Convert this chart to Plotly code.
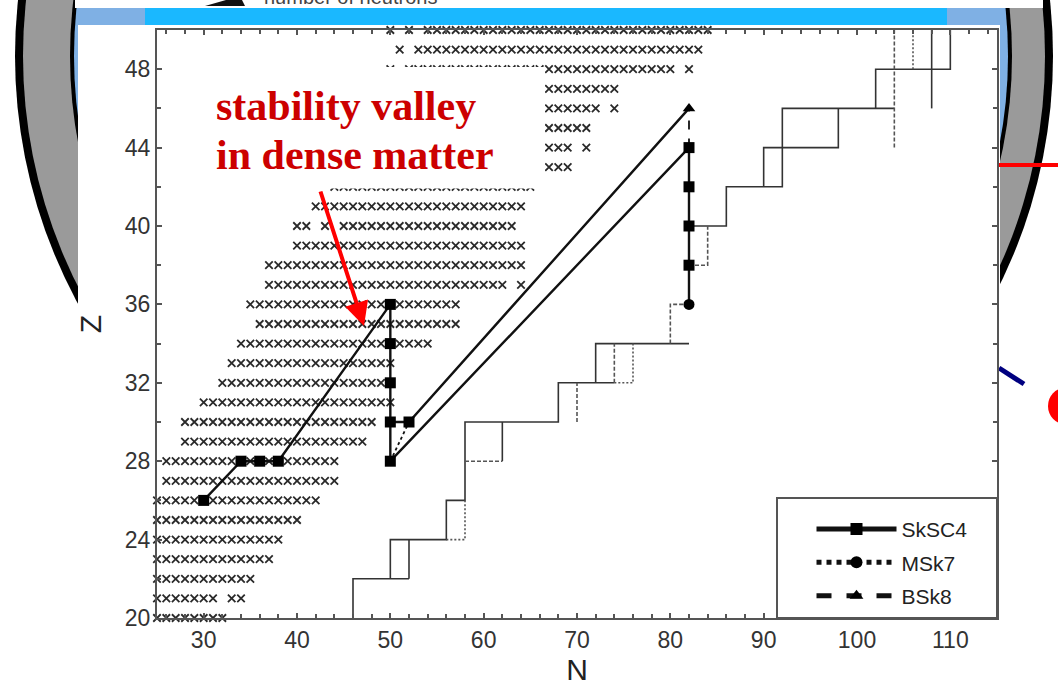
import plotly.graph_objects as go

# ---------------- data ----------------
# rows of nuclei marked with crosses: Z value and the N values present
cross_Z = [20, 21, 22, 23, 24, 25, 26, 27, 28, 29, 30, 31, 32, 33, 34, 35, 36,
           37, 38, 39, 40, 41, 42, 43, 44, 45, 46, 47, 48, 49, 50]
cross_N = ["25-32", "25-31,33-34", "25-35", "25-37", "25-38", "25-40", "25-42",
           "26-44", "26-44", "28-47", "28-48", "30-50", "32-50", "33-50", "34-54",
           "36-57", "35-57", "37-62,64", "37-64", "40-64", "40-41,43,45-63",
           "42-64", "44-65", "67-69", "67-69,71", "67-71", "67-72,74", "67-74",
           "50,52-80,82", "51,53-83", "50,52,54-84"]

# model compositions (markers)
skSC4_N = [30, 34, 36, 38, 50, 50, 50, 50, 50, 52, 82, 82, 82, 82]
skSC4_Z = [26, 28, 28, 28, 36, 34, 32, 30, 28, 30, 44, 42, 40, 38]
msk7_N = [82]
msk7_Z = [36]
bsk8_N = [82]
bsk8_Z = [46]

# connecting paths
path_solid_N = [30, 34, 36, 38, 50, 50, 82, 82, None, 50, 52, 82]
path_solid_Z = [26, 28, 28, 28, 36, 28, 44, 36, None, 30, 30, 46]
path_dotted_N = [50, 52]
path_dotted_Z = [28, 30]
path_dashed_N = [82, 82]
path_dashed_Z = [44, 46]

# staircase boundaries
stair_solid_N = [46, 46, 52, None, 50, 50, 56, 56, 58, 58, 68, 68, 74, None, 52, 52, None,
                 62, 62, None, 72, 72, 82, None, 82, 86, 86, 92, 92, 104, None,
                 90, 90, 98, 98, None, 102, 102, 110, 110, None, 108, 108]
stair_solid_Z = [20, 22, 22, None, 22, 24, 24, 26, 26, 30, 30, 32, 32, None, 22, 24, None,
                 28, 30, None, 32, 34, 34, None, 40, 40, 42, 42, 46, 46, None,
                 42, 44, 44, 46, None, 46, 48, 48, 50, None, 46, 50]
stair_dashed_N = [58, 62, None, 70, 70, None, 74, 74, None, 80, 80, 82, None, 82, 84, 84, None, 104, 104]
stair_dashed_Z = [28, 28, None, 30, 32, None, 32, 34, None, 34, 36, 36, None, 38, 38, 40, None, 44, 50]
stair_dotted_N = [56, 58, 58, None, 74, 76, 76, None, 106, 106]
stair_dotted_Z = [24, 24, 26, None, 32, 32, 34, None, 48, 50]

x_ticks = [30, 40, 50, 60, 70, 80, 90, 100, 110]
y_ticks = [20, 24, 28, 32, 36, 40, 44, 48]
legend_names = ["SkSC4", "MSk7", "BSk8"]

# ---------------- geometry helpers (layout only) ----------------
W, H = 1058, 691
L, R, T, B = 157, 997, 30, 618


def px(x):
    return (x - L) / (R - L)


def py(y):
    return (B - y) / (B - T)


def expand(spec):
    out = []
    for part in spec.split(","):
        if "-" in part:
            a, b = part.split("-")
            out.extend(range(int(a), int(b) + 1))
        else:
            out.append(int(part))
    return out


cx, cy = [], []
for z, spec in zip(cross_Z, cross_N):
    for n in expand(spec):
        cx.append(n)
        cy.append(z)

fig = go.Figure()

# staircases
fig.add_trace(go.Scatter(x=stair_solid_N, y=stair_solid_Z, mode="lines", showlegend=False,
                         line=dict(color="#333", width=1.6), hoverinfo="skip"))
fig.add_trace(go.Scatter(x=stair_dashed_N, y=stair_dashed_Z, mode="lines", showlegend=False,
                         line=dict(color="#555", width=1.6, dash="4px,2px"), hoverinfo="skip"))
fig.add_trace(go.Scatter(x=stair_dotted_N, y=stair_dotted_Z, mode="lines", showlegend=False,
                         line=dict(color="#555", width=1.6, dash="2px,2px"), hoverinfo="skip"))

# crosses
fig.add_trace(go.Scatter(x=cx, y=cy, mode="markers", showlegend=False, cliponaxis=False,
                         marker=dict(symbol="x-thin", size=7.5, line=dict(color="#2a2a2a", width=1.8)),
                         hoverinfo="skip"))

# model paths
fig.add_trace(go.Scatter(x=path_solid_N, y=path_solid_Z, mode="lines", showlegend=False,
                         line=dict(color="#111", width=2.4), hoverinfo="skip"))
fig.add_trace(go.Scatter(x=path_dotted_N, y=path_dotted_Z, mode="lines", showlegend=False,
                         line=dict(color="#111", width=1.8, dash="dot"), hoverinfo="skip"))
fig.add_trace(go.Scatter(x=path_dashed_N, y=path_dashed_Z, mode="lines", showlegend=False,
                         line=dict(color="#111", width=1.8, dash="dash"), hoverinfo="skip"))

# model markers
fig.add_trace(go.Scatter(x=skSC4_N, y=skSC4_Z, mode="markers", showlegend=False,
                         marker=dict(symbol="square", size=11, color="#000")))
fig.add_trace(go.Scatter(x=msk7_N, y=msk7_Z, mode="markers", showlegend=False,
                         marker=dict(symbol="circle", size=11, color="#000")))
fig.add_trace(go.Scatter(x=bsk8_N, y=bsk8_Z, mode="markers", showlegend=False,
                         marker=dict(symbol="triangle-up", size=11, color="#000")))

# legend entries
for name, sym, dash in zip(legend_names, ["square", "circle", "triangle-up"], ["solid", "dot", "dash"]):
    fig.add_trace(go.Scatter(x=[None], y=[None], mode="lines+markers",
                             name=name + "\u00a0\u00a0\u00a0\u00a0", legendgroup=name,
                             marker=dict(symbol=sym, size=10, color="#000"),
                             line=dict(color="#111", width=1.8, dash=dash)))

# ---------------- slide background (decoration) ----------------
shapes = []


def ell(cxp, cyp, r, color):
    shapes.append(dict(type="circle", xref="paper", yref="paper",
                       x0=px(cxp - r), x1=px(cxp + r), y0=py(cyp + r), y1=py(cyp - r),
                       fillcolor=color, line=dict(width=0), layer="below"))


def rect(x0, y0, x1, y1, color, layer="below"):
    shapes.append(dict(type="rect", xref="paper", yref="paper",
                       x0=px(x0), x1=px(x1), y0=py(y1), y1=py(y0),
                       fillcolor=color, line=dict(width=0), layer=layer))


ell(534, 56, 519, "#000000")
ell(534, 56, 511, "#9a9a9a")
ell(541, 56, 471, "#000000")
ell(541, 56, 467, "#7fb0e4")
rect(75, -20, 1043, 8, "#ffffff")
rect(145, 8, 947, 25, "#1ab8ff")
rect(78, 25, 1000, 720, "#ffffff")
# top arrow fragment
shapes.append(dict(type="path", xref="paper", yref="paper",
                   path="M {} {} L {} {} L {} {} Z".format(px(205), py(6), px(240), py(-4), px(245), py(6)),
                   fillcolor="#111", line=dict(width=0), layer="below"))
# right side fragments
shapes.append(dict(type="line", xref="paper", yref="paper", x0=px(998), x1=px(1060), y0=py(165), y1=py(165),
                   line=dict(color="#ff0000", width=4), layer="below"))
shapes.append(dict(type="line", xref="paper", yref="paper", x0=px(999), x1=px(1024), y0=py(368), y1=py(384),
                   line=dict(color="#000080", width=5), layer="below"))
shapes.append(dict(type="circle", xref="paper", yref="paper", x0=px(1048), x1=px(1082), y0=py(424), y1=py(388),
                   fillcolor="#ff0000", line=dict(width=0), layer="below"))
# white text box over the crosses
rect(205, 67, 545, 188.5, "#ffffff", layer="above")

annotations = [
    dict(xref="paper", yref="paper", x=px(214), y=py(106), xanchor="left", yanchor="middle",
         text="<b>stability valley</b>", showarrow=False,
         font=dict(family="Liberation Serif, Times New Roman, serif", size=42, color="#cc0000")),
    dict(xref="paper", yref="paper", x=px(214), y=py(155), xanchor="left", yanchor="middle",
         text="<b>in dense matter</b>", showarrow=False,
         font=dict(family="Liberation Serif, Times New Roman, serif", size=42, color="#cc0000")),
    dict(xref="paper", yref="paper", x=px(364), y=py(326), text="", showarrow=True,
         ax=-44, ay=-136, arrowhead=2, arrowsize=1.2, arrowwidth=4, arrowcolor="#ff0000"),
    dict(xref="paper", yref="paper", x=px(262), y=py(10), xanchor="left", yanchor="bottom",
         text="number of neutrons", showarrow=False,
         font=dict(family="Arial", size=20, color="#444")),
]

axis_common = dict(showline=True, linecolor="#555", linewidth=2, mirror="ticks",
                   ticks="inside", ticklen=5, tickcolor="#555", tickwidth=1.5,
                   showgrid=False, zeroline=False,
                   tickfont=dict(family="Arial", size=23, color="#333"))

fig.update_layout(
    width=W, height=H,
    margin=dict(l=L, r=W - R, t=T, b=H - B, pad=0),
    paper_bgcolor="#ffffff", plot_bgcolor="rgba(0,0,0,0)",
    xaxis=dict(range=[25, 115], tickvals=x_ticks,
               minor=dict(dtick=2, ticks="inside", ticklen=4, tickcolor="#555"),
               title=dict(text="N", font=dict(family="Arial", size=30, color="#222"), standoff=6),
               **axis_common),
    yaxis=dict(range=[20, 50], tickvals=y_ticks,
               minor=dict(dtick=2, ticks="inside", ticklen=4, tickcolor="#555"),
               title=dict(text="Z", font=dict(family="Arial", size=30, color="#222"), standoff=14),
               **axis_common),
    legend=dict(x=1, y=0, xanchor="right", yanchor="bottom", bgcolor="#ffffff",
                bordercolor="#555", borderwidth=1.5, itemwidth=80, itemsizing="constant",
                font=dict(family="Arial", size=21, color="#222"), indentation=34,
                tracegroupgap=3, title=dict(text=" ", font=dict(size=8))),
    shapes=shapes,
    annotations=annotations,
    showlegend=True,
)

fig.write_html("out.html", config={"displayModeBar": False},
               post_script="document.body.style.margin='0';document.body.style.overflow='hidden';")
